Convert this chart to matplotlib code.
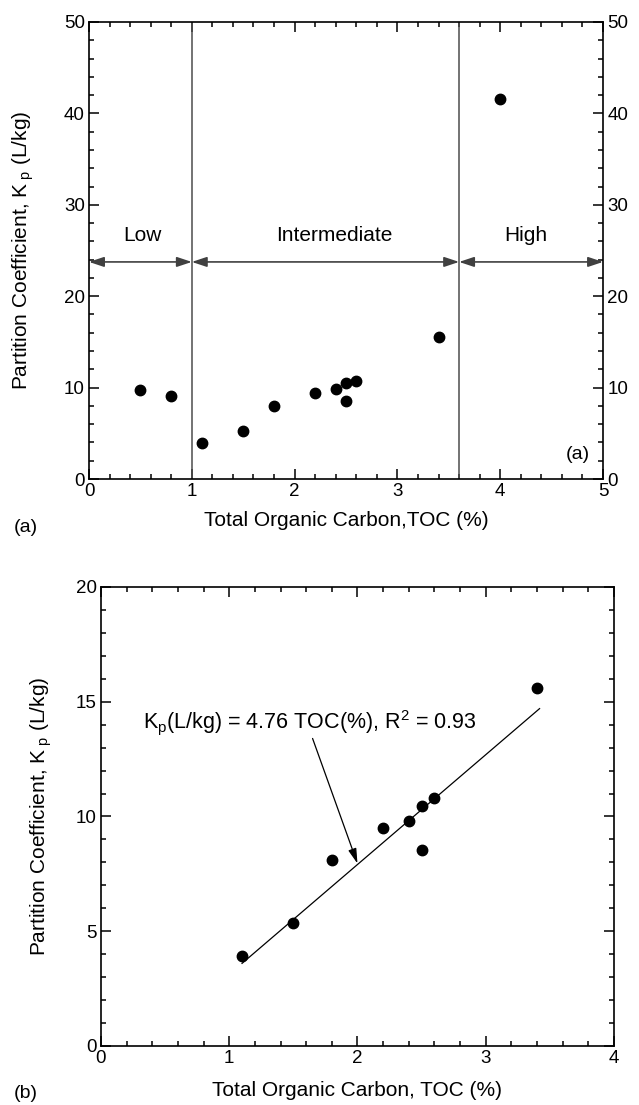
import numpy as np
import matplotlib.pyplot as plt
from matplotlib.ticker import MultipleLocator

plt.rcParams['font.family'] = ['Liberation Sans', 'DejaVu Sans']
plt.rcParams['mathtext.fontset'] = 'custom'
plt.rcParams['mathtext.rm'] = 'Liberation Sans'
plt.rcParams['mathtext.it'] = 'Liberation Sans'

# data
toc_a = [0.5, 0.8, 1.1, 1.5, 1.8, 2.2, 2.4, 2.5, 2.5, 2.6, 3.4, 4.0]
kp_a = [9.7, 9.1, 3.9, 5.3, 8.0, 9.4, 9.8, 10.5, 8.5, 10.7, 15.5, 41.6]

toc_b = [1.1, 1.5, 1.8, 2.2, 2.4, 2.5, 2.5, 2.6, 3.4]
kp_b = [3.9, 5.35, 8.1, 9.5, 9.8, 10.45, 8.55, 10.8, 15.6]

fit_x = [1.1, 3.42]
fit_y = [3.6, 14.7]

bounds = [1.0, 3.6]
zones = ['Low', 'Intermediate', 'High']
zone_x = [0.52, 2.39, 4.25]

fig = plt.figure(figsize=(6.39, 11.05), dpi=100)
ax1 = fig.add_axes([0.1393, 0.5665, 0.8044, 0.4136])
ax2 = fig.add_axes([0.158, 0.0534, 0.8028, 0.4154])

def style(ax):
    ax.tick_params(which='both', direction='in', top=True, right=True,
                   labelsize=13.5, width=1.1, pad=3)
    ax.tick_params(which='major', length=7)
    ax.tick_params(which='minor', length=3.5)
    for s in ax.spines.values():
        s.set_linewidth(1.2)

# (a)
ax1.plot(toc_a, kp_a, 'o', color='black', markersize=7.5)
for b in bounds:
    ax1.axvline(b, color='0.3', lw=1.1)
edges = [0] + bounds + [5]
for i, z in enumerate(zones):
    ax1.annotate('', xy=(edges[i + 1], 23.75), xytext=(edges[i], 23.75),
                 arrowprops=dict(arrowstyle='<|-|>,head_length=0.9,head_width=0.3',
                                 color='0.25', lw=1.2, shrinkA=0, shrinkB=0))
    ax1.text(zone_x[i], 26.6, z, ha='center', va='center', fontsize=15)
ax1.text(4.75, 2.7, '(a)', ha='center', va='center', fontsize=14)
ax1.set_xlim(0, 5)
ax1.set_ylim(0, 50)
ax1.xaxis.set_major_locator(MultipleLocator(1))
ax1.xaxis.set_minor_locator(MultipleLocator(0.2))
ax1.yaxis.set_major_locator(MultipleLocator(10))
ax1.yaxis.set_minor_locator(MultipleLocator(2))
style(ax1)
ax1.tick_params(labelright=True)
ax1.set_xlabel('Total Organic Carbon,TOC (%)', fontsize=15, labelpad=8)
ax1.set_ylabel(r'Partition Coefficient, K$_{\rm\ p}$ (L/kg)', fontsize=15, labelpad=20)

# (b)
ax2.plot(toc_b, kp_b, 'o', color='black', markersize=7.5)
ax2.plot(fit_x, fit_y, color='black', lw=0.9)
ax2.annotate('', xy=(2.0, 7.95), xytext=(1.65, 13.4),
             arrowprops=dict(arrowstyle='-|>,head_length=0.9,head_width=0.25',
                             color='black', lw=0.9, shrinkA=0, shrinkB=0))
ax2.text(0.33, 14.1, r'K$_{\rm p}$(L/kg) = 4.76 TOC(%), R$^2$ = 0.93',
         ha='left', va='center', fontsize=15.5)
ax2.set_xlim(0, 4)
ax2.set_ylim(0, 20)
ax2.xaxis.set_major_locator(MultipleLocator(1))
ax2.xaxis.set_minor_locator(MultipleLocator(0.2))
ax2.yaxis.set_major_locator(MultipleLocator(5))
ax2.yaxis.set_minor_locator(MultipleLocator(1))
style(ax2)
ax2.set_xlabel('Total Organic Carbon, TOC (%)', fontsize=15, labelpad=10)
ax2.set_ylabel(r'Partition Coefficient, K$_{\rm\ p}$ (L/kg)', fontsize=15, labelpad=16)

fig.text(14 / 639, 1 - 527 / 1105, '(a)', ha='left', va='center', fontsize=14)
fig.text(14 / 639, 1 - 1093 / 1105, '(b)', ha='left', va='center', fontsize=14)

fig.savefig('out.png', dpi=100)
